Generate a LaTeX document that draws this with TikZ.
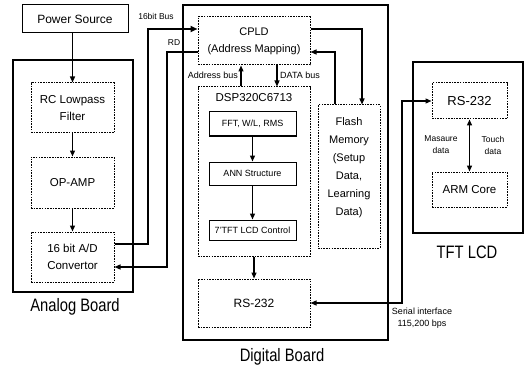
\documentclass[tikz,border=0pt]{standalone}
\usepackage{fontspec}
\setmainfont{Liberation Sans}
\newfontfamily\narrowfont[FakeStretch=0.82]{Liberation Sans}
\usetikzlibrary{arrows.meta}
\newcommand\fs[2]{\fontsize{#1}{#2}\selectfont}
\begin{document}
\begin{tikzpicture}[x=1pt,y=-1pt,
  solidbox/.style={draw,line width=1pt,inner sep=0pt,align=center},
  dotbox/.style={draw,line width=1pt,dash pattern=on 1.6pt off 1.1pt,inner sep=0pt,align=center},
  board/.style={draw,line width=1.1pt,inner sep=0pt},
  conn/.style={line width=1.3pt,-{Triangle[length=6pt,width=5pt]}},
  bus/.style={line width=2pt,-{Triangle[length=7pt,width=6pt]}},
  biconn/.style={line width=1.3pt,{Triangle[length=6pt,width=5pt]}-{Triangle[length=6pt,width=5pt]}},
  lbl/.style={inner sep=0pt,align=center},
  boardlbl/.style={inner sep=0pt,font=\narrowfont\fs{18}{20}}]
\useasboundingbox (0,0) rectangle (526,366);
% boards
\node[board,minimum width=120pt,minimum height=232pt] (analog) at (73,176) {};
\node[board,minimum width=205pt,minimum height=335pt] (digital) at (285.5,172.5) {};
\node[board,minimum width=110pt,minimum height=171pt] (tft) at (468,147.5) {};
\node[boardlbl] (analoglbl) at (75,307) {Analog Board};
\node[boardlbl] (digitallbl) at (282,357) {Digital Board};
\node[boardlbl] (tftlbl) at (467,252) {TFT LCD};
% analog
\node[solidbox,minimum width=106pt,minimum height=28pt,font=\fs{12}{14}] (power) at (75,19) {Power Source};
\node[dotbox,minimum width=83pt,minimum height=50pt,font=\fs{11.5}{17}] (rc) at (72.5,108) {RC Lowpass\\Filter};
\node[dotbox,minimum width=83pt,minimum height=51pt,font=\fs{11.5}{17}] (opamp) at (72.5,182.5) {OP-AMP};
\node[dotbox,minimum width=83pt,minimum height=50pt,font=\fs{11.5}{17}] (adc) at (72.5,257) {16 bit A/D\\Convertor};
% digital
\node[dotbox,minimum width=112pt,minimum height=48pt,font=\fs{11}{17}] (cpld) at (254,41) {CPLD\\(Address Mapping)};
\node[dotbox,minimum width=112pt,minimum height=169pt] (dsp) at (254,171.5) {};
\node[lbl,font=\fs{11.5}{14}] (dsptitle) at (254,98) {DSP320C6713};
\node[solidbox,minimum width=87pt,minimum height=24pt,font=\fs{9}{11}] (fft) at (252.5,124) {FFT, W/L, RMS};
\node[solidbox,minimum width=87pt,minimum height=23pt,font=\fs{9}{11}] (ann) at (252.5,173.5) {ANN Structure};
\node[solidbox,minimum width=87pt,minimum height=20pt,font=\fs{9}{11}] (lcdctl) at (252.5,230) {7'TFT LCD Control};
\node[dotbox,minimum width=112pt,minimum height=48pt,font=\fs{12}{14}] (rsd) at (254,303) {RS-232};
\node[dotbox,minimum width=62pt,minimum height=143pt] (flash) at (349,176.5) {};
\node[lbl,font=\fs{11}{18}] (flashtxt) at (349,168) {Flash\\Memory\\(Setup\\Data,\\Learning\\Data)};
% tft
\node[dotbox,minimum width=75pt,minimum height=36pt,font=\fs{13}{15}] (rst) at (469.5,101) {RS-232};
\node[dotbox,minimum width=75pt,minimum height=35pt,font=\fs{11.5}{14}] (arm) at (469.5,189.5) {ARM Core};
% connectors
\draw[conn] (power.south -| rc.north) -- (rc.north);
\draw[conn] (rc) -- (opamp);
\draw[conn] (opamp) -- (adc);
\coordinate (busa) at (148,244);
\coordinate (busb) at (148,29);
\draw[bus] (adc.east |- busa) -- (busa) -- (busb) -- (busb -| cpld.west);
\coordinate (rda) at (167,52);
\coordinate (rdb) at (167,267);
\draw[conn] (cpld.west |- rda) -- (rda) -- (rdb) -- (rdb -| adc.east);
\node[lbl,font=\fs{8.5}{10}] (buslbl) at (156,16) {16bit Bus};
\node[lbl,font=\fs{8.5}{10}] (rdlbl) at (174,43) {RD};
\coordinate (addrx) at (241,0);
\coordinate (datax) at (277,0);
\draw[conn] (addrx |- dsp.north) -- (addrx |- cpld.south);
\draw[conn] (datax |- cpld.south) -- (datax |- dsp.north);
\node[lbl,font=\fs{9}{11},anchor=east] (addrlbl) at (238,75) {Address bus};
\node[lbl,font=\fs{9}{11},anchor=west] (datalbl) at (280,75) {DATA bus};
\draw[conn] (fft) -- (ann);
\draw[conn] (ann) -- (lcdctl);
\draw[conn] (dsp.south) -- (rsd.north);
\coordinate (fla) at (362,29);
\draw[conn] (cpld.east |- fla) -- (fla) -- (fla |- flash.north);
\coordinate (flb) at (335,52);
\draw[conn] (flb |- flash.north) -- (flb) -- (flb -| cpld.east);
\coordinate (sera) at (402,303);
\coordinate (serb) at (402,101);
\draw[biconn] (rsd.east) -- (sera) -- (serb) -- (rst.west);
\node[lbl,font=\fs{9}{12}] (serlbl) at (422,318) {Serial interface\\115,200 bps};
\draw[biconn] (rst) -- (arm);
\node[lbl,font=\fs{8.5}{12}] (measlbl) at (441,145) {Masaure\\data};
\node[lbl,font=\fs{8.5}{12}] (touchlbl) at (493,145) {Touch\\data};
\end{tikzpicture}
\end{document}
